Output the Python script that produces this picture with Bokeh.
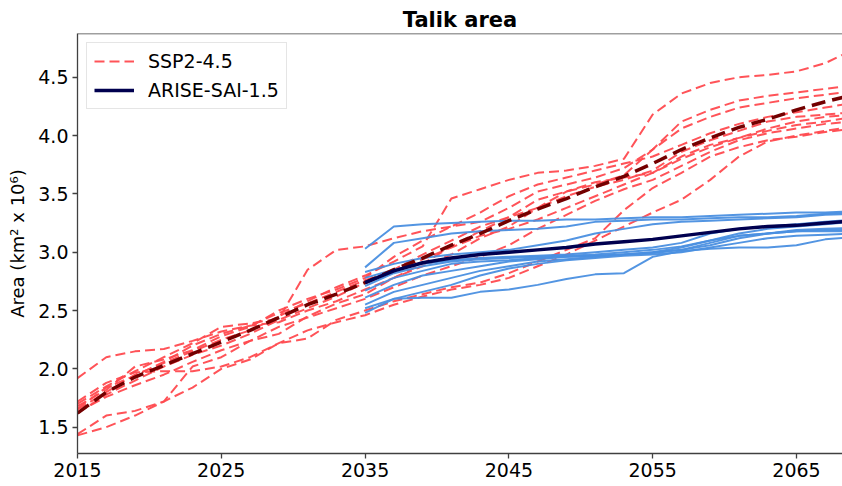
from bokeh.plotting import figure
from bokeh.models import Range1d, FixedTicker, Legend, LegendItem, NumeralTickFormatter, Span
from bokeh.embed import file_html
from bokeh.resources import INLINE

# ---------------- data ----------------
ssp_years = [2015, 2017, 2019, 2021, 2023, 2025, 2027, 2029, 2031, 2033, 2035, 2037, 2039, 2041,
             2043, 2045, 2047, 2049, 2051, 2053, 2055, 2057, 2059, 2061, 2063, 2065, 2067, 2069]

ssp_m1 = [1.92, 2.10, 2.15, 2.17, 2.24, 2.32, 2.37, 2.40, 2.50, 2.58, 2.68, 2.78, 2.88, 2.98,
          3.12, 3.22, 3.38, 3.52, 3.60, 3.64, 3.68, 3.82, 3.92, 3.98, 4.04, 4.09, 4.12, 4.16]
ssp_m2 = [1.70, 1.85, 1.98, 2.10, 2.22, 2.36, 2.39, 2.43, 2.85, 3.02, 3.05, 3.12, 3.18, 3.22,
          3.26, 3.38, 3.52, 3.58, 3.64, 3.72, 3.88, 4.12, 4.22, 4.30, 4.34, 4.37, 4.40, 4.43]
ssp_m3 = [1.65, 1.80, 1.95, 2.05, 2.15, 2.25, 2.33, 2.45, 2.58, 2.70, 2.80, 2.92, 3.05, 3.46,
          3.54, 3.62, 3.68, 3.70, 3.74, 3.80, 4.18, 4.36, 4.45, 4.50, 4.52, 4.55, 4.62, 4.74]
ssp_m4 = [1.44, 1.60, 1.64, 1.72, 2.02, 2.10, 2.24, 2.30, 2.45, 2.56, 2.64, 2.78, 2.90, 3.05,
          3.18, 3.30, 3.45, 3.52, 3.58, 3.66, 3.88, 4.06, 4.16, 4.24, 4.28, 4.32, 4.35, 4.38]
ssp_m5 = [1.43, 1.50, 1.60, 1.72, 1.84, 2.00, 2.08, 2.22, 2.26, 2.42, 2.50, 2.58, 2.64, 2.70,
          2.74, 2.82, 2.92, 3.02, 3.12, 3.36, 3.55, 3.68, 3.82, 3.90, 3.96, 3.99, 4.03, 4.06]
ssp_m6 = [1.72, 1.88, 1.97, 1.98, 1.98, 2.02, 2.10, 2.22, 2.33, 2.40, 2.46, 2.55, 2.62, 2.68,
          2.72, 2.78, 2.88, 2.98, 3.10, 3.22, 3.34, 3.45, 3.62, 3.82, 3.95, 4.00, 4.04, 4.08]
ssp_m7 = [1.68, 1.82, 2.02, 2.08, 2.16, 2.28, 2.36, 2.50, 2.60, 2.68, 2.78, 2.96, 3.10, 3.22,
          3.34, 3.48, 3.58, 3.64, 3.70, 3.76, 3.82, 3.92, 4.02, 4.10, 4.16, 4.20, 4.24, 4.28]
ssp_m8 = [1.62, 1.78, 1.90, 2.02, 2.12, 2.20, 2.30, 2.42, 2.52, 2.62, 2.74, 2.85, 2.98, 3.10,
          3.22, 3.30, 3.38, 3.48, 3.56, 3.62, 3.70, 3.86, 3.96, 4.04, 4.12, 4.16, 4.18, 4.20]
ssp_m9 = [1.66, 1.84, 1.94, 2.06, 2.20, 2.30, 2.37, 2.48, 2.56, 2.66, 2.76, 2.84, 2.94, 3.04,
          3.14, 3.20, 3.28, 3.38, 3.48, 3.58, 3.68, 3.80, 3.90, 3.98, 4.06, 4.12, 4.16, 4.18]
ssp_m10 = [1.63, 1.76, 1.86, 1.95, 2.06, 2.16, 2.24, 2.36, 2.44, 2.52, 2.60, 2.70, 2.80, 2.88,
           2.96, 3.06, 3.20, 3.32, 3.44, 3.54, 3.62, 3.74, 3.86, 3.96, 4.02, 4.06, 4.10, 4.12]
ssp_mean = [1.62, 1.80, 1.93, 2.03, 2.13, 2.23, 2.33, 2.44, 2.55, 2.64, 2.74, 2.85, 2.95, 3.06,
            3.16, 3.27, 3.37, 3.46, 3.56, 3.65, 3.76, 3.88, 3.98, 4.07, 4.14, 4.22, 4.29, 4.35]

arise_years = [2035, 2037, 2039, 2041, 2043, 2045, 2047, 2049, 2051, 2053, 2055, 2057, 2059,
               2061, 2063, 2065, 2067, 2069]

arise_m1 = [3.03, 3.22, 3.24, 3.25, 3.26, 3.27, 3.27, 3.28, 3.28, 3.29, 3.30, 3.30, 3.31, 3.32, 3.33, 3.34, 3.34, 3.35]
arise_m2 = [2.87, 3.08, 3.12, 3.16, 3.18, 3.19, 3.20, 3.22, 3.26, 3.27, 3.28, 3.28, 3.29, 3.30, 3.30, 3.31, 3.33, 3.34]
arise_m3 = [2.83, 2.90, 2.95, 2.98, 3.00, 3.02, 3.06, 3.10, 3.16, 3.20, 3.24, 3.26, 3.27, 3.28, 3.29, 3.30, 3.32, 3.33]
arise_m4 = [2.78, 2.85, 2.90, 2.93, 2.95, 2.96, 2.97, 2.98, 3.00, 3.02, 3.04, 3.08, 3.16, 3.20, 3.22, 3.24, 3.26, 3.28]
arise_m5 = [2.71, 2.82, 2.88, 2.92, 2.94, 2.95, 2.96, 2.97, 2.98, 3.00, 3.02, 3.05, 3.10, 3.16, 3.20, 3.22, 3.24, 3.26]
arise_m6 = [2.67, 2.78, 2.84, 2.90, 2.92, 2.93, 2.95, 2.96, 2.97, 2.98, 3.00, 3.02, 3.06, 3.12, 3.16, 3.19, 3.20, 3.21]
arise_m7 = [2.61, 2.72, 2.80, 2.84, 2.88, 2.92, 2.94, 2.96, 2.97, 2.98, 2.99, 3.02, 3.08, 3.14, 3.16, 3.18, 3.19, 3.19]
arise_m8 = [2.55, 2.66, 2.72, 2.78, 2.84, 2.88, 2.92, 2.94, 2.96, 2.98, 3.00, 3.04, 3.10, 3.14, 3.16, 3.18, 3.18, 3.18]
arise_m9 = [2.52, 2.60, 2.66, 2.72, 2.80, 2.86, 2.90, 2.93, 2.95, 2.97, 2.98, 3.00, 3.04, 3.08, 3.12, 3.14, 3.15, 3.16]
arise_m10 = [2.48, 2.60, 2.61, 2.61, 2.66, 2.68, 2.72, 2.77, 2.81, 2.82, 2.96, 3.01, 3.03, 3.04, 3.04, 3.06, 3.11, 3.13]
arise_mean = [2.74, 2.84, 2.91, 2.95, 2.98, 3.00, 3.02, 3.04, 3.07, 3.09, 3.11, 3.14, 3.17, 3.20, 3.22, 3.23, 3.25, 3.27]

x_ticks = [2015, 2025, 2035, 2045, 2055, 2065]
y_ticks = [1.5, 2.0, 2.5, 3.0, 3.5, 4.0, 4.5]

title_text = "Talik area"
y_label = "Area (km\u00b2 x 10\u2076)"
legend_labels = ["SSP2-4.5", "ARISE-SAI-1.5"]

ssp_members = [ssp_m1, ssp_m2, ssp_m3, ssp_m4, ssp_m5, ssp_m6, ssp_m7, ssp_m8, ssp_m9, ssp_m10]
arise_members = [arise_m1, arise_m2, arise_m3, arise_m4, arise_m5, arise_m6, arise_m7, arise_m8,
                 arise_m9, arise_m10]

# ---------------- styles ----------------
FONT = "DejaVu Sans"
RED = "#ff4a4f"
DARKRED = "#730000"
BLUE = "#4a8fe0"
NAVY = "#00004f"
SPINE = "#404040"

X_START, X_END = 2015, 2068.2
Y_START, Y_END = 1.2746, 4.8746

p = figure(width=842, height=486, output_backend="svg", toolbar_location=None,
           x_range=Range1d(X_START, X_END), y_range=Range1d(Y_START, Y_END),
           min_border_left=77, min_border_right=0, min_border_top=33, min_border_bottom=33)

p.title.text = title_text
p.title.align = "center"
p.title.offset = 5
p.title.text_font = FONT
p.title.text_font_size = "21px"
p.title.text_font_style = "bold"
p.title.text_color = "#000000"
p.title.standoff = 4

p.xgrid.visible = False
p.ygrid.visible = False
p.outline_line_color = None
p.background_fill_color = "white"
p.border_fill_color = "white"

# top spine (the right spine is outside the cropped reference)
p.add_layout(Span(location=Y_END, dimension="width", line_color=SPINE, line_width=1.3))

for ax in (p.xaxis[0], p.yaxis[0]):
    ax.axis_line_color = SPINE
    ax.axis_line_width = 1.3
    ax.major_tick_line_color = SPINE
    ax.major_tick_line_width = 1.3
    ax.major_tick_out = 5
    ax.major_tick_in = 0
    ax.minor_tick_line_color = None
    ax.major_label_text_font = FONT
    ax.major_label_text_font_size = "19px"
    ax.major_label_text_color = "#000000"
    ax.axis_label_text_font = FONT
    ax.axis_label_text_font_size = "18px"
    ax.axis_label_text_font_style = "normal"
    ax.axis_label_text_color = "#000000"

p.xaxis[0].ticker = FixedTicker(ticks=x_ticks)
p.xaxis[0].major_label_standoff = 4
p.yaxis[0].ticker = FixedTicker(ticks=y_ticks)
p.yaxis[0].formatter = NumeralTickFormatter(format="0.0")
p.yaxis[0].major_label_standoff = 4
p.yaxis[0].axis_label = y_label
p.yaxis[0].axis_label_standoff = 7

ssp_renderers = []
for m in ssp_members:
    r = p.line(ssp_years, m, line_color=RED, line_width=2, line_dash="10 5", line_alpha=0.95)
    ssp_renderers.append(r)

for m in arise_members:
    p.line(arise_years, m, line_color=BLUE, line_width=2, line_alpha=0.95)

p.line(ssp_years, ssp_mean, line_color=DARKRED, line_width=3.5, line_dash="14 7")
arise_mean_r = p.line(arise_years, arise_mean, line_color=NAVY, line_width=3.5)

legend = Legend(items=[LegendItem(label=legend_labels[0], renderers=[ssp_renderers[0]]),
                       LegendItem(label=legend_labels[1], renderers=[arise_mean_r])],
                location="top_left")
legend.label_text_font = FONT
legend.label_text_font_size = "19px"
legend.label_text_color = "#000000"
legend.glyph_width = 40
legend.glyph_height = 20
legend.label_height = 20
legend.label_standoff = 14
legend.spacing = 7
legend.padding = 7
legend.margin = 9
legend.border_line_color = "#cccccc"
legend.border_line_width = 1
legend.background_fill_color = "white"
legend.background_fill_alpha = 0.85
p.add_layout(legend)

open("out.html", "w").write(file_html(p, INLINE))
